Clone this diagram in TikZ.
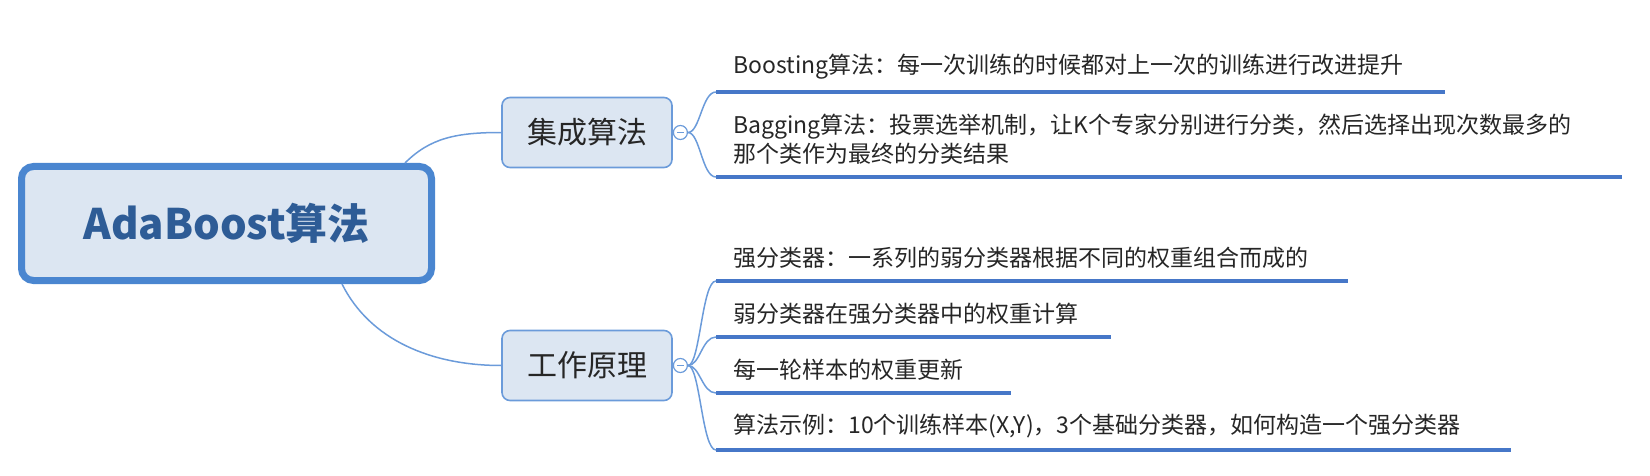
\documentclass[tikz,border=0pt]{standalone}
\usepackage{fontspec}
\setmainfont{Noto Sans CJK SC}
\usetikzlibrary{positioning}
\definecolor{mapblue}{HTML}{4A86D0}
\definecolor{mapfill}{HTML}{DCE6F2}
\definecolor{mapline}{HTML}{6B9BDA}
\definecolor{rootink}{HTML}{2E5C96}
\definecolor{ulblue}{HTML}{4677C8}
\tikzset{
  rootnode/.style = {rectangle, rounded corners=6pt, draw=mapblue, line width=3.5pt, fill=mapfill, minimum width=205pt, minimum height=57pt, font=\fontsize{21}{25}\selectfont\bfseries, text=rootink},
  topicnode/.style = {rectangle, rounded corners=4pt, draw=mapline, line width=0.8pt, fill=mapfill, minimum width=85pt, minimum height=35pt, font=\fontsize{15}{18}\selectfont, text=black!85},
  foldmark/.style = {circle, draw=mapline, fill=white, line width=0.6pt, minimum size=7pt, inner sep=0pt},
  leafnode/.style = {anchor=south west, align=left, text width=#1, inner xsep=8.5pt, inner ysep=6pt, font=\fontsize{11.5}{14.5}\selectfont, text=black!85},
  conn/.style = {draw=mapline, line width=0.75pt},
  uline/.style = {draw=ulblue, line width=2pt},
}
\begin{document}
\begin{tikzpicture}[x=0.5pt, y=-0.5pt]
\useasboundingbox (0,0) rectangle (1650,476);

\node [rootnode] (R) at (226.5,223.5) {AdaBoost算法};
\node [topicnode] (T1) at (587,132.5) {集成算法};
\node [topicnode] (T2) at (587,365.5) {工作原理};

\draw [conn] (R.north east) ++(-30,0) .. controls +(25,-25) and +(-45,0) .. (T1.west);
\draw [conn] (R.south east) ++(-93,0) .. controls +(28,56) and +(-70,0) .. (T2.west);

\node [foldmark, right=0pt of T1] (F1) {};
\node [foldmark, right=0pt of T2] (F2) {};
\draw [conn, line width=0.5pt] ([xshift=-1.6pt]F1.center) -- ([xshift=1.6pt]F1.center);
\draw [conn, line width=0.5pt] ([xshift=-1.6pt]F2.center) -- ([xshift=1.6pt]F2.center);

\node [leafnode=347pt] (L1) at (716,92) {Boosting算法：每一次训练的时候都对上一次的训练进行改进提升};
\node [leafnode=435.5pt] (L2) at (716,177) {Bagging算法：投票选举机制，让K个专家分别进行分类，然后选择出现次数最多的\\那个类作为最终的分类结果};
\node [leafnode=298.5pt] (L3) at (716,281) {强分类器：一系列的弱分类器根据不同的权重组合而成的};
\node [leafnode=180pt] (L4) at (716,337) {弱分类器在强分类器中的权重计算};
\node [leafnode=130pt] (L5) at (716,393) {每一轮样本的权重更新};
\node [leafnode=380pt] (L6) at (716,450) {算法示例：10个训练样本(X,Y)，3个基础分类器，如何构造一个强分类器};

\foreach \i in {1,...,6}
  \draw [uline] (L\i.south west) -- (L\i.south east);

\foreach \i in {1,2}
  \draw [conn] (F1.east) .. controls +(12,0) and +(-14,0) .. (L\i.south west);
\foreach \i in {3,...,6}
  \draw [conn] (F2.east) .. controls +(12,0) and +(-14,0) .. (L\i.south west);
\end{tikzpicture}
\end{document}
